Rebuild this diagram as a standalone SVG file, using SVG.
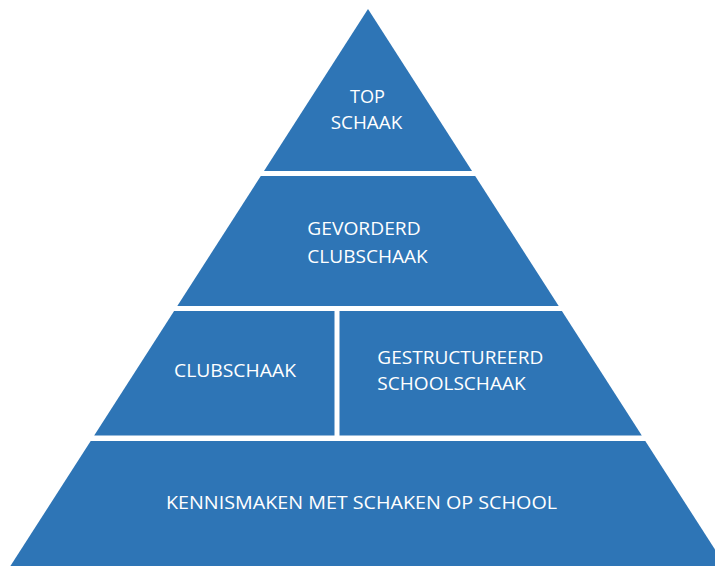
<svg xmlns="http://www.w3.org/2000/svg" width="715" height="566" viewBox="0 0 715 566">
  <style>
    .layer { fill: #2E75B6; stroke: none; }
    .lbl { font-family: "Open Sans", "Liberation Sans", sans-serif; font-size: 18.5px; fill: #FFFFFF; }
  </style>
  <rect width="715" height="566" fill="#FFFFFF"/>
  <g id="top-schaak">
    <polygon class="layer" points="368,9 472,171 264,171"/>
    <text class="lbl" x="350" y="103" textLength="35" lengthAdjust="spacingAndGlyphs">TOP</text>
    <text class="lbl" x="330.7" y="129.3" textLength="71.6" lengthAdjust="spacingAndGlyphs">SCHAAK</text>
  </g>
  <g id="gevorderd-clubschaak">
    <polygon class="layer" points="260.8,176 475.2,176 558.7,306 177.3,306"/>
    <text class="lbl" x="307.3" y="235" textLength="113.4" lengthAdjust="spacingAndGlyphs">GEVORDERD</text>
    <text class="lbl" x="307.3" y="262.7" textLength="120.4" lengthAdjust="spacingAndGlyphs">CLUBSCHAAK</text>
  </g>
  <g id="clubschaak">
    <polygon class="layer" points="174.1,311 334.5,311 334.5,435.5 94.2,435.5"/>
    <text class="lbl" x="174" y="376.7" textLength="122" lengthAdjust="spacingAndGlyphs">CLUBSCHAAK</text>
  </g>
  <g id="gestructureerd-schoolschaak">
    <polygon class="layer" points="339.5,311 561.9,311 641.8,435.5 339.5,435.5"/>
    <text class="lbl" x="377.3" y="364" textLength="166" lengthAdjust="spacingAndGlyphs">GESTRUCTUREERD</text>
    <text class="lbl" x="377.3" y="390" textLength="148.4" lengthAdjust="spacingAndGlyphs">SCHOOLSCHAAK</text>
  </g>
  <g id="kennismaken">
    <polygon class="layer" points="90.7,441 645.3,441 725.6,566 10.4,566"/>
    <text class="lbl" x="166" y="508.7" textLength="391" lengthAdjust="spacingAndGlyphs">KENNISMAKEN MET SCHAKEN OP SCHOOL</text>
  </g>
  <g id="connectors"/>
</svg>
